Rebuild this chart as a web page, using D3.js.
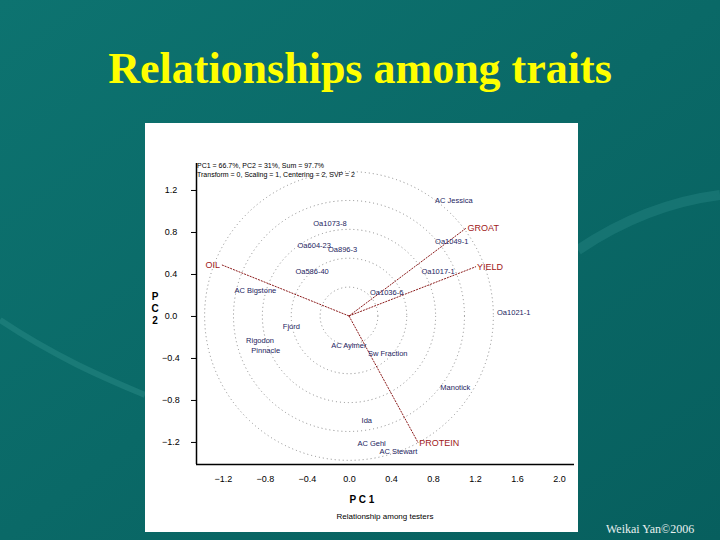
<!DOCTYPE html>
<html><head><meta charset="utf-8">
<script src="https://cdn.jsdelivr.net/npm/d3@7"></script>
<style>body{margin:0;background:#0b6b69;}svg{display:block}</style>
</head><body>
<svg id="c" width="720" height="540"></svg>
<script>
var traits = ["OIL", "GROAT", "YIELD", "PROTEIN"]
var traitX = [-1.21, 1.12, 1.21, 0.66]
var traitY = [0.486, 0.84, 0.47, -1.21]

var genos = ["AC Jessica", "Oa1073-8", "Oa1049-1", "Oa604-23", "Oa896-3", "Oa586-40", "Oa1017-1",
  "AC Bigstone", "Oa1036-6", "Oa1021-1", "Fjord", "Rigodon", "Pinnacle", "AC Aylmer", "Sw Fraction",
  "Manotick", "Ida", "AC Gehl", "AC Stewart"]
var genoX = [0.82, -0.34, 0.82, -0.49, -0.2, -0.51, 0.69, -1.09, 0.20, 1.41, -0.63, -0.98, -0.93,
  -0.17, 0.18, 0.87, 0.12, 0.08, 0.29]
var genoY = [1.10, 0.89, 0.71, 0.68, 0.64, 0.43, 0.43, 0.25, 0.23, 0.04, -0.10, -0.23, -0.32,
  -0.28, -0.35, -0.68, -0.99, -1.21, -1.29]

var xTicks = [-1.2, -0.8, -0.4, 0.0, 0.4, 0.8, 1.2, 1.6, 2.0]
var yTicks = [1.2, 0.8, 0.4, 0.0, -0.4, -0.8, -1.2]
var rings = [0.275, 0.55, 0.825, 1.1, 1.375]

var svg = d3.select("#c")

// slide background
var grad = svg.append("defs").append("linearGradient").attr("id", "bg")
  .attr("x1", 0).attr("y1", 0).attr("x2", 1).attr("y2", 1)
grad.append("stop").attr("offset", 0).attr("stop-color", "#0d7370")
grad.append("stop").attr("offset", 1).attr("stop-color", "#075f5e")
svg.append("rect").attr("width", 720).attr("height", 540).attr("fill", "url(#bg)")
svg.append("path").attr("d", "M0,320 C60,360 110,380 145,395").attr("stroke", "#2a8a86").attr("stroke-width", 6).attr("fill", "none").attr("opacity", 0.5)
svg.append("path").attr("d", "M578,250 C630,215 680,200 720,195").attr("stroke", "#2a8a86").attr("stroke-width", 10).attr("fill", "none").attr("opacity", 0.4)

svg.append("text").attr("x", 360).attr("y", 83).attr("text-anchor", "middle")
  .attr("font-family", "Liberation Serif").attr("font-weight", "bold").attr("font-size", 44)
  .attr("fill", "#ffff00").text("Relationships among traits")

svg.append("rect").attr("x", 145).attr("y", 123).attr("width", 433).attr("height", 409).attr("fill", "#fff")

svg.append("text").attr("x", 606).attr("y", 533).attr("font-family", "Liberation Serif")
  .attr("font-size", 12).attr("fill", "#e8f0f0").text("Weikai Yan©2006")

var x = d3.scaleLinear().domain([-1.457, 2.143]).range([196, 574])
var y = d3.scaleLinear().domain([-1.41, 1.457]).range([464, 163])

svg.append("g").selectAll("circle").data(rings).enter().append("circle")
  .attr("cx", x(0)).attr("cy", y(0)).attr("r", function(d) { return x(d) - x(0) })
  .attr("fill", "none").attr("stroke", "#888").attr("stroke-width", 1).attr("stroke-dasharray", "1,3")

var xAxis = svg.append("g").attr("transform", "translate(0,464)")
  .call(d3.axisBottom(x).tickValues(xTicks).tickFormat(d3.format(".1f")).tickSize(0).tickPadding(12))
var yAxis = svg.append("g").attr("transform", "translate(196,0)")
  .call(d3.axisLeft(y).tickValues(yTicks).tickFormat(d3.format(".1f")).tickSize(5).tickPadding(14))
;[xAxis, yAxis].forEach(function(a) {
  a.select(".domain").attr("stroke", "#000").attr("stroke-width", 1.5)
  a.selectAll("text").attr("font-family", "Liberation Sans").attr("font-size", 9).attr("fill", "#000")
})
yAxis.selectAll("text").attr("text-anchor", "middle").attr("dx", -6)
xAxis.select(".domain").attr("d", "M196,0.5H574")
yAxis.select(".domain").attr("d", "M0.5,163V464")

svg.append("g").selectAll("line").data(traits).enter().append("line")
  .attr("x1", x(0)).attr("y1", y(0))
  .attr("x2", function(d, i) { return x(traitX[i]) })
  .attr("y2", function(d, i) { return y(traitY[i]) })
  .attr("stroke", "#8b1a1a").attr("stroke-width", 1).attr("stroke-dasharray", "2,1")

svg.append("g").selectAll("text").data(traits).enter().append("text")
  .attr("x", function(d, i) { return x(traitX[i]) + (traitX[i] < 0 ? -2 : 1) })
  .attr("y", function(d, i) { return y(traitY[i]) + 3 })
  .attr("text-anchor", function(d, i) { return traitX[i] < 0 ? "end" : "start" })
  .attr("font-family", "Liberation Sans").attr("font-size", 9).attr("fill", "#a01818")
  .text(function(d) { return d })

svg.append("g").selectAll("text").data(genos).enter().append("text")
  .attr("x", function(d, i) { return x(genoX[i]) })
  .attr("y", function(d, i) { return y(genoY[i]) + 3 })
  .attr("font-family", "Liberation Sans").attr("font-size", 7.5).attr("fill", "#1c1c60")
  .text(function(d) { return d })

svg.append("text").attr("x", 197).attr("y", 168).attr("font-family", "Liberation Sans").attr("font-size", 7)
  .text("PC1 = 66.7%, PC2 = 31%, Sum = 97.7%")
svg.append("text").attr("x", 197).attr("y", 177).attr("font-family", "Liberation Sans").attr("font-size", 7)
  .text("Transform = 0, Scaling = 1, Centering = 2, SVP = 2")

svg.append("text").attr("x", 362).attr("y", 503).attr("text-anchor", "middle")
  .attr("font-family", "Liberation Sans").attr("font-weight", "bold").attr("font-size", 10).text("P C 1")
svg.append("text").attr("x", 385).attr("y", 519).attr("text-anchor", "middle")
  .attr("font-family", "Liberation Sans").attr("font-size", 8).text("Relationship among testers")
;["P", "C", "2"].forEach(function(t, i) {
  svg.append("text").attr("x", 155).attr("y", 300 + i * 12).attr("text-anchor", "middle")
    .attr("font-family", "Liberation Sans").attr("font-weight", "bold").attr("font-size", 10).text(t)
})
</script>
</body></html>
